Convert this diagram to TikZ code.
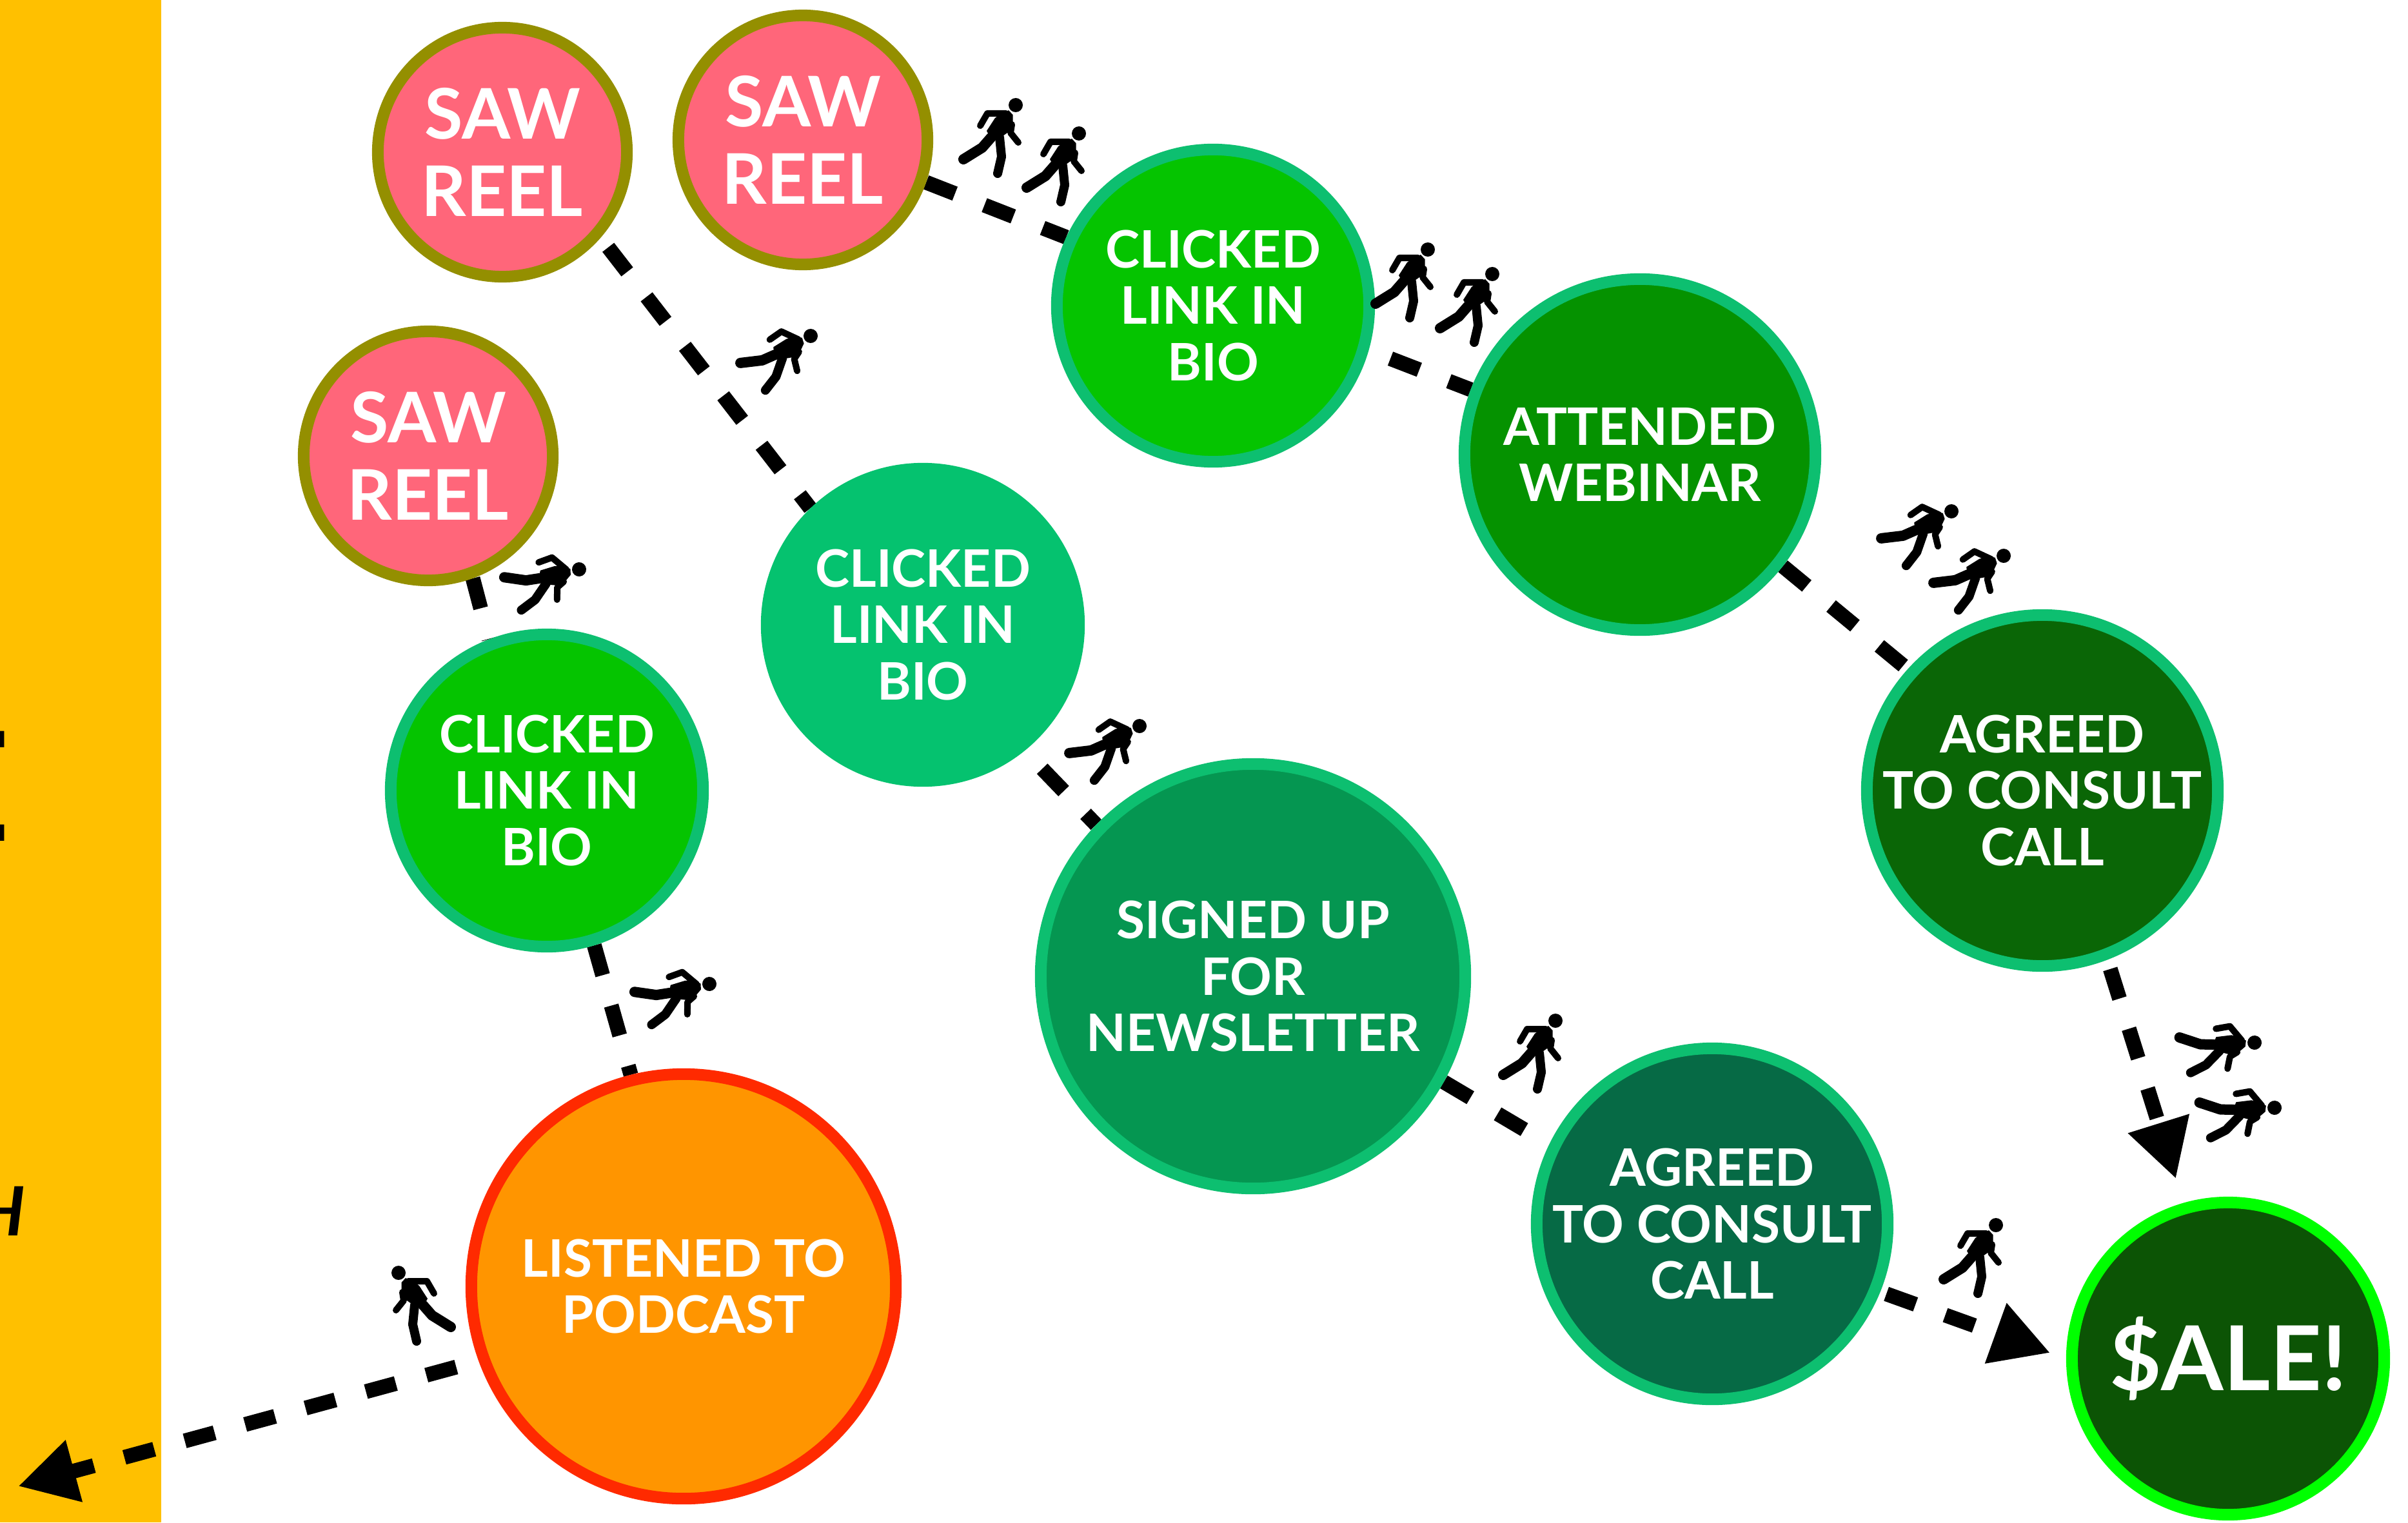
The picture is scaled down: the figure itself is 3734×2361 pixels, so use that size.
\documentclass[tikz,border=0pt]{standalone}
\usepackage{fontspec}
\setmainfont{Lato}
\usetikzlibrary{arrows.meta,backgrounds}
\definecolor{bandc}{HTML}{FFC000}
\definecolor{reelc}{HTML}{FF667A}
\definecolor{olivec}{HTML}{948F00}
\definecolor{ringc}{HTML}{0DBF70}
\definecolor{clickc}{HTML}{05C400}
\definecolor{midc}{HTML}{05C26F}
\definecolor{attc}{HTML}{059200}
\definecolor{agrc}{HTML}{0A6606}
\definecolor{signc}{HTML}{059651}
\definecolor{agmc}{HTML}{066A45}
\definecolor{salec}{HTML}{0C5405}
\definecolor{salering}{HTML}{00FF00}
\definecolor{podc}{HTML}{FF9500}
\definecolor{podring}{HTML}{FF2A00}
\tikzset{
  x=0.01cm,y=-0.01cm,
  stage/.style={circle,draw,line width=0.18cm,inner sep=0pt,minimum size=#1},
  stage/.default=4.84cm,
  txt/.style={text=white,align=center,inner sep=0pt,font=\bfseries\fontsize{22.8}{25}\selectfont},
  txtbig/.style={txt,font=\bfseries\fontsize{30.8}{33.9}\selectfont},
  txtsale/.style={txt,font=\bfseries\fontsize{39.5}{42}\selectfont},
  flow/.style={line width=0.23cm,dash pattern=on 0.48cm off 0.49cm},
  flowend/.style={flow,-{Triangle[length=0.9cm,width=0.93cm]}},
  runner/.pic={
    \fill (0,0) circle[radius=11];
    \fill (-11,8)--(-4.5,15)--(-4.5,37)--(-23,50)--(-38,53)--(-45,40)--(-32,20)--(-25,15)--cycle;
    \draw[line width=0.1cm,line cap=round,line join=round] (-15,13)--(-44,13)--(-55,32);
    \draw[line width=0.1cm,line cap=round,line join=round] (-6,30)--(-8,43)--(4,58);
    \draw[line width=0.16cm,line cap=round,line join=round] (-38,50)--(-52,66)--(-81,84);
    \draw[line width=0.14cm,line cap=round,line join=round] (-25,50)--(-22,80)--(-28,106);
  }
}
\begin{document}
\begin{tikzpicture}
\useasboundingbox (0,0) rectangle (3734,2361);
% nodes
\node[stage=3.86cm,fill=reelc,draw=olivec,label={[txtbig]center:SAW\\REEL}] (saw1) at (779,236) {};
\node[stage=3.86cm,fill=reelc,draw=olivec,label={[txtbig]center:SAW\\REEL}] (saw2) at (1245,217) {};
\node[stage=3.86cm,fill=reelc,draw=olivec,label={[txtbig]center:SAW\\REEL}] (saw3) at (664,707) {};
\node[stage,fill=clickc,draw=ringc,label={[txt]center:CLICKED\\LINK IN\\BIO}] (cl1) at (848,1226) {};
\node[stage,fill=midc,draw=midc,label={[txt]center:CLICKED\\LINK IN\\BIO}] (clm) at (1431,969) {};
\node[stage,fill=clickc,draw=ringc,label={[txt]center:CLICKED\\LINK IN\\BIO}] (clt) at (1881,474) {};
\node[stage=6.58cm,fill=podc,draw=podring,label={[txt]center:LISTENED TO\\PODCAST}] (pod) at (1060,1995) {};
\node[stage=6.58cm,fill=signc,draw=ringc,label={[txt]center:SIGNED UP\\FOR\\NEWSLETTER}] (sign) at (1943,1514) {};
\node[stage=5.44cm,fill=attc,draw=ringc,label={[txt]center:ATTENDED\\WEBINAR}] (att) at (2543,705) {};
\node[stage=5.44cm,fill=agrc,draw=ringc,label={[txt]center:AGREED\\TO CONSULT\\CALL}] (agr) at (3167,1226) {};
\node[stage=5.44cm,fill=agmc,draw=ringc,label={[txt]center:AGREED\\TO CONSULT\\CALL}] (agm) at (2655,1898) {};
\node[stage,fill=salec,draw=salering,label={[txtsale]center:\$ALE!}] (sale) at (3455,2107) {};
\coordinate (off) at (28,2305);
% connectors
\begin{pgfonlayer}{background}
\fill[bandc] (0,0) rectangle (250,2361);
\draw[flow,shorten <=0.19cm] (saw1.-41) -- (clm.134);
\draw[flow] (saw2.-19.7) -- (clt.155);
\draw[flow,shorten <=0.36cm] (clt.-16.5) -- (att.159.2);
\draw[flow] (att.-38.8) -- (agr.138);
\draw[flowend,shorten <=0.15cm,shorten >=0.39cm] (agr.-69.2) -- (sale.106.2);
\draw[flow] (saw3.-70.7) -- (cl1.111);
\draw[flow] (cl1.-73.6) -- (pod.104.2);
\draw[flowend,shorten <=0.36cm] (pod.200.2) -- (off);
\draw[flow,shorten <=0.39cm] (clm.-51.6) -- (sign.136.2);
\draw[flow] (sign.-29.4) -- (agm.154.1);
\draw[flowend,shorten <=0.1cm,shorten >=0.26cm] (agm.-22.1) -- (sale.180);
\end{pgfonlayer}
% runners
\pic at (1575,163) {runner};
\pic at (1673,207) {runner};
\pic at (2214,387) {runner};
\pic at (2314,425) {runner};
\pic[rotate=-25] at (3026,793) {runner};
\pic[rotate=-25] at (3107,862) {runner};
\pic[rotate=-25] at (1257,521) {runner};
\pic[rotate=-40] at (898,883) {runner};
\pic[rotate=-40] at (1100,1526) {runner};
\pic[rotate=-25] at (1767,1126) {runner};
\pic at (2412,1583) {runner};
\pic at (3095,1900) {runner};
\pic[rotate=-50] at (3496,1617) {runner};
\pic[rotate=-50] at (3527,1718) {runner};
\pic[xscale=-1] at (618,1974) {runner};
% band text
\node[anchor=east,inner sep=0pt,font=\bfseries\fontsize{67}{67}\selectfont] (bandE) at (17,1219) {E};
\node[anchor=east,inner sep=0pt,font=\bfseries\itshape\fontsize{30}{30}\selectfont] (bandH) at (40,1878) {H};
\end{tikzpicture}
\end{document}
